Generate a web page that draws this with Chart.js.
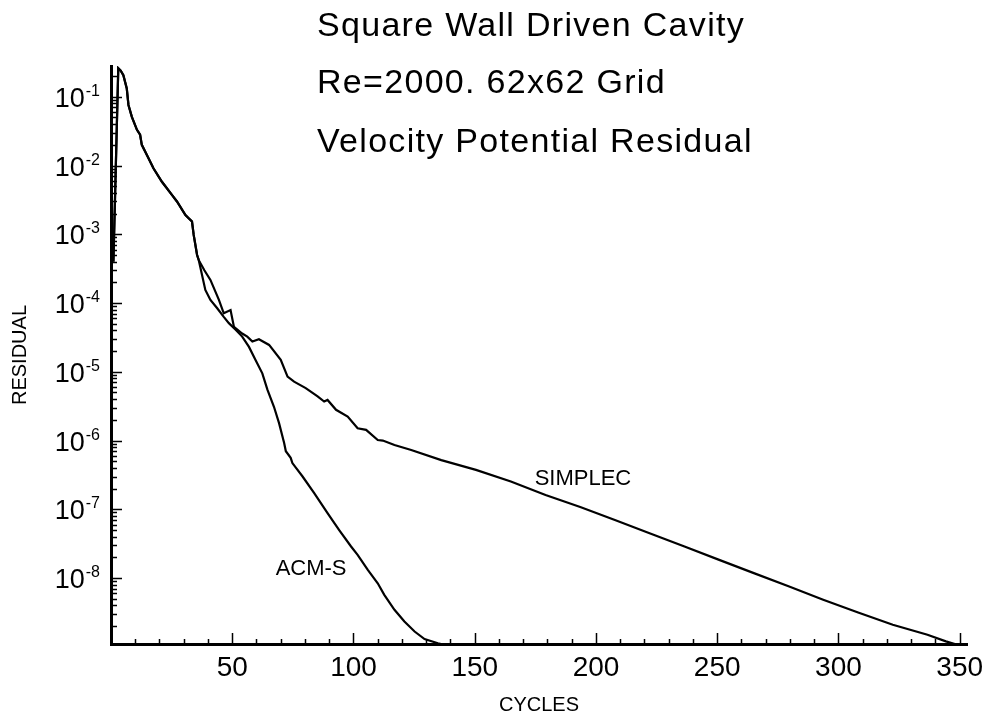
<!DOCTYPE html>
<html>
<head>
<meta charset="utf-8">
<script src="https://cdn.jsdelivr.net/npm/chart.js@4.4.1/dist/chart.umd.min.js"></script>
<style>
  html, body { margin: 0; padding: 0; background: #fff; }
  #wrap { position: relative; width: 991px; height: 720px; }
</style>
</head>
<body>
<div id="wrap"><canvas id="chart"></canvas></div>
<script>
// both runs share the same history for the first ~36 cycles
const sharedCycles = [1, 3, 4, 5.1, 6.5, 7.2, 8.6, 10.7, 12.0, 12.7, 14.8, 17.5, 21.0, 25.2, 27.2, 30.7, 33.4, 34.1, 35.5, 36.2];
const sharedResidual = [4e-4, 0.26, 0.24, 0.206, 0.132, 0.076, 0.051, 0.033, 0.028, 0.020, 0.0142, 0.0091, 0.0058, 0.0037, 0.0030, 0.0019, 0.00153, 0.00098, 0.0005, 0.00042];

const simplecCycles = [38.5, 41.0, 44.5, 46.5, 49.3, 50.7, 54.1, 56.2, 58.3, 61.0, 65.2, 70.0, 72.8, 75.5, 80.3, 85.2, 87.9, 89.3, 92.8, 97.6, 101.7, 105.2, 110.0, 112.1, 116.9, 123.8, 136.2, 150.5, 164.9, 179.2, 193.5, 207.8, 222.1, 236.5, 250.8, 265.1, 279.4, 293.7, 308.1, 322.4, 336.7, 344.3, 348];
const simplecResidual = [3.0e-4, 2.17e-4, 1.11e-4, 7.1e-5, 7.9e-5, 4.5e-5, 3.6e-5, 3.25e-5, 2.75e-5, 2.97e-5, 2.46e-5, 1.49e-5, 8.5e-6, 7.2e-6, 5.8e-6, 4.4e-6, 3.7e-6, 3.9e-6, 2.8e-6, 2.23e-6, 1.51e-6, 1.43e-6, 1.02e-6, 1.0e-6, 8.6e-7, 7.3e-7, 5.2e-7, 3.75e-7, 2.54e-7, 1.62e-7, 1.08e-7, 7.0e-8, 4.5e-8, 2.88e-8, 1.84e-8, 1.18e-8, 7.6e-9, 4.84e-9, 3.16e-9, 2.1e-9, 1.5e-9, 1.2e-9, 1.1e-9];

const acmCycles = [38.9, 41.0, 43.8, 46.5, 48.6, 51.4, 54.1, 56.9, 59.6, 62.4, 64.5, 67.2, 69.3, 71.4, 72.1, 74.1, 74.8, 79.0, 83.8, 89.3, 94.1, 99.0, 101.7, 105.9, 110.0, 112.7, 116.9, 121.0, 125.2, 129.3, 134.8, 137];
const acmResidual = [1.55e-4, 1.11e-4, 8.4e-5, 6.3e-5, 5.1e-5, 4.1e-5, 3.25e-5, 2.3e-5, 1.49e-5, 9.5e-6, 5.5e-6, 3.1e-6, 1.79e-6, 9.2e-7, 7.0e-7, 5.6e-7, 4.7e-7, 3.0e-7, 1.72e-7, 8.8e-8, 5.0e-8, 2.88e-8, 2.18e-8, 1.32e-8, 8.4e-9, 5.7e-9, 3.46e-9, 2.34e-9, 1.67e-9, 1.30e-9, 1.13e-9, 1.08e-9];

const xTickLabels = [50, 100, 150, 200, 250, 300, 350];
const yDecades = [-9, -8, -7, -6, -5, -4, -3, -2, -1];
// decade labels are written as 10 with a raised exponent
const yLabelDecades = [-8, -7, -6, -5, -4, -3, -2, -1];
const yLabelBase = '10';

const titleLines = ['Square Wall Driven Cavity', 'Re=2000. 62x62 Grid', 'Velocity Potential Residual'];
const curveLabels = [
  { text: 'SIMPLEC', cycle: 174.7, residual: 2.27e-7 },
  { text: 'ACM-S', cycle: 67.9, residual: 1.12e-8 }
];

const X_MIN = 0, X_MAX = 353;
const Y_MIN = 1.1e-9, Y_MAX = 0.28;
const FONT = '"Liberation Sans", Arial, Helvetica, sans-serif';

function toPoints(xs, ys) {
  return xs.map((x, i) => ({ x: x, y: ys[i] }));
}

const simplecData = toPoints(sharedCycles.concat(simplecCycles), sharedResidual.concat(simplecResidual));
const acmData = toPoints(sharedCycles.concat(acmCycles), sharedResidual.concat(acmResidual));

// inward tick marks, decade labels, title and curve labels
const decorPlugin = {
  id: 'decor',
  afterDraw(chart) {
    const ctx = chart.ctx;
    const area = chart.chartArea;
    const xs = chart.scales.x, ys = chart.scales.y;
    ctx.save();
    ctx.strokeStyle = '#000';
    ctx.lineWidth = 1.5;
    ctx.beginPath();
    ys.ticks.forEach(t => {
      const p = Math.round(ys.getPixelForValue(t.value)) + 0.5;
      const len = t.major ? 11 : 6;
      ctx.moveTo(area.left, p);
      ctx.lineTo(area.left + len, p);
    });
    xs.ticks.forEach(t => {
      const p = Math.round(xs.getPixelForValue(t.value)) + 0.5;
      const len = t.value % 50 === 0 ? 11 : 5;
      ctx.moveTo(p, area.bottom);
      ctx.lineTo(p, area.bottom - len);
    });
    ctx.stroke();

    ctx.fillStyle = '#000';
    ctx.textBaseline = 'alphabetic';

    // y decade labels
    const right = area.left - 11;
    yLabelDecades.forEach(e => {
      const p = ys.getPixelForValue(Math.pow(10, e));
      const expText = String(e);
      ctx.font = '16px ' + FONT;
      ctx.textAlign = 'right';
      const expW = ctx.measureText(expText).width;
      ctx.fillText(expText, right, p - 1);
      ctx.font = '27px ' + FONT;
      ctx.fillText(yLabelBase, right - expW - 1, p + 10);
    });

    ctx.textAlign = 'left';
    ctx.font = '34px ' + FONT;
    if ('letterSpacing' in ctx) ctx.letterSpacing = '1.3px';
    const baselines = [36, 93, 152];
    titleLines.forEach((line, i) => ctx.fillText(line, 317, baselines[i]));

    ctx.font = '22px ' + FONT;
    if ('letterSpacing' in ctx) ctx.letterSpacing = '0px';
    curveLabels.forEach(l => {
      ctx.fillText(l.text, xs.getPixelForValue(l.cycle), ys.getPixelForValue(l.residual));
    });
    ctx.restore();
  }
};

Chart.defaults.font.family = FONT;
Chart.defaults.color = '#000';

new Chart(document.getElementById('chart'), {
  type: 'scatter',
  data: {
    datasets: [
      { label: 'SIMPLEC', data: simplecData },
      { label: 'ACM-S', data: acmData }
    ].map(d => Object.assign(d, {
      showLine: true,
      borderColor: '#000',
      backgroundColor: '#000',
      borderWidth: 2.2,
      pointRadius: 0,
      tension: 0
    }))
  },
  options: {
    responsive: true,
    maintainAspectRatio: false,
    animation: false,
    layout: { padding: { top: 66, right: 24, left: 0, bottom: 0 } },
    plugins: {
      legend: { display: false },
      title: { display: false },
      tooltip: { enabled: false }
    },
    scales: {
      x: {
        type: 'linear',
        min: X_MIN,
        max: X_MAX,
        afterFit(scale) { scale.height = 76; },
        afterBuildTicks(scale) {
          const ticks = [];
          for (let v = 0; v <= 350; v += 10) ticks.push({ value: v });
          scale.ticks = ticks;
        },
        ticks: {
          autoSkip: false,
          maxRotation: 0,
          padding: 7,
          font: { size: 28 },
          callback: v => xTickLabels.includes(v) ? String(v) : ''
        },
        grid: { display: false, drawTicks: false },
        border: { display: true, color: '#000', width: 3 },
        title: {
          display: true,
          text: 'CYCLES',
          font: { size: 20 },
          padding: { top: 0, bottom: 3 }
        }
      },
      y: {
        type: 'logarithmic',
        min: Y_MIN,
        max: Y_MAX,
        afterFit(scale) { scale.width = 111; },
        afterBuildTicks(scale) {
          const ticks = [];
          yDecades.forEach(e => {
            for (let s = 1; s <= 9; s++) {
              const v = s * Math.pow(10, e);
              if (v >= Y_MIN && v <= Y_MAX) ticks.push({ value: v, major: s === 1 });
            }
          });
          scale.ticks = ticks;
        },
        ticks: { display: false, autoSkip: false },
        grid: { display: false, drawTicks: false },
        border: { display: true, color: '#000', width: 3 },
        title: {
          display: true,
          text: 'RESIDUAL',
          font: { size: 20 },
          padding: { top: 8, bottom: 0 }
        }
      }
    }
  },
  plugins: [decorPlugin]
});
</script>
</body>
</html>
